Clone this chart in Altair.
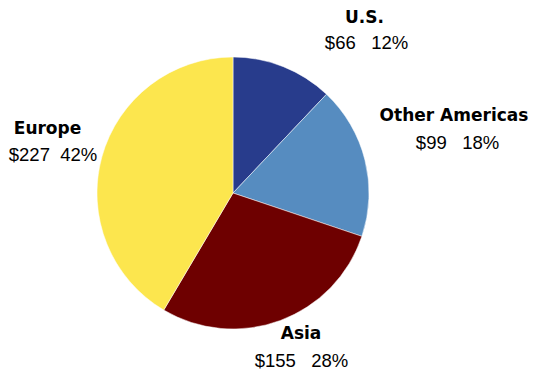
import altair as alt
import pandas as pd

regions = ["U.S.", "Other Americas", "Asia", "Europe"]
amounts = [66, 99, 155, 227]
percents = [12, 18, 28, 42]
gaps = [3, 3, 3, 2]
colors = ["#283C8C", "#568CC0", "#6E0000", "#FCE64E"]

value_labels = [f"${a}" + "\u00a0" * g + f"{p}%" for a, p, g in zip(amounts, percents, gaps)]

# layout (chart pixel coordinates)
CX, CY, R = 225, 185, 136
name_pos = [(356.5, 9.5), (446, 108), (293, 326), (39.5, 120.5)]
value_pos = [(358.5, 35), (449.5, 135), (293.5, 353), (45, 146.5)]

df = pd.DataFrame({"region": regions, "amount": amounts, "idx": list(range(len(regions)))})

labels = pd.DataFrame({
    "region": regions,
    "value_label": value_labels,
    "nx": [p[0] for p in name_pos],
    "ny": [p[1] for p in name_pos],
    "vx": [p[0] for p in value_pos],
    "vy": [p[1] for p in value_pos],
})

pie = alt.Chart(df).mark_arc(outerRadius=R, stroke="#ffffff", strokeWidth=0.5).encode(
    theta=alt.Theta("amount:Q", stack=True),
    order=alt.Order("idx:Q"),
    color=alt.Color("region:N", scale=alt.Scale(domain=regions, range=colors), legend=None),
    x=alt.value(CX),
    y=alt.value(CY),
)

names = alt.Chart(labels).mark_text(
    font="DejaVu Sans", fontWeight="bold", fontSize=17, align="center", baseline="middle", color="#000000"
).encode(
    x=alt.X("nx:Q", scale=None, axis=None),
    y=alt.Y("ny:Q", scale=None, axis=None),
    text="region:N",
)

vals = alt.Chart(labels).mark_text(
    font="Liberation Sans", fontSize=18.5, align="center", baseline="middle", color="#000000"
).encode(
    x=alt.X("vx:Q", scale=None, axis=None),
    y=alt.Y("vy:Q", scale=None, axis=None),
    text="value_label:N",
)

chart = alt.layer(pie, names, vals).properties(
    width=524, height=362, padding=0,
    autosize=alt.AutoSizeParams(type="none"),
).configure_view(stroke=None)

chart.save("out.html", embed_options={"renderer": "svg", "actions": False})
